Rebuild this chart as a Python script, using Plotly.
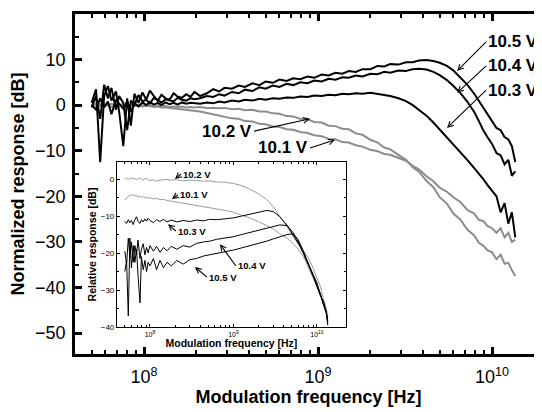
import plotly.graph_objects as go

# ---------------- data ----------------
FREQ_HZ = [
    5.0e7, 5.3e7, 5.6e7, 5.9e7, 6.2e7, 6.5e7, 6.9e7, 7.2e7, 7.6e7, 8.0e7,
    8.4e7, 8.8e7, 9.3e7, 9.8e7, 1.03e8, 1.08e8, 1.14e8, 1.20e8, 1.26e8, 1.33e8,
    1.40e8, 1.48e8, 1.56e8, 1.65e8, 1.75e8, 1.85e8, 1.95e8, 2.1e8, 2.3e8, 2.5e8,
    2.7e8, 2.9e8, 3.2e8, 3.5e8, 3.8e8, 4.2e8, 4.6e8, 5.0e8, 5.5e8, 6.0e8,
    6.6e8, 7.2e8, 7.9e8, 8.7e8, 9.5e8, 1.05e9, 1.15e9, 1.26e9, 1.38e9, 1.5e9,
    1.65e9, 1.8e9, 2.0e9, 2.2e9, 2.4e9, 2.6e9, 2.9e9, 3.2e9, 3.5e9, 3.8e9,
    4.2e9, 4.6e9, 5.0e9, 5.5e9, 6.0e9, 6.6e9, 7.2e9, 7.9e9, 8.4e9, 8.9e9,
    9.4e9, 1.0e10, 1.06e10, 1.12e10, 1.18e10, 1.24e10, 1.3e10, 1.36e10,
]

NORM_10_5 = [
    0.5, 3.5, -12.5, 2.0, 4.2, 1.0, 3.0, -1.5, -9.0, 1.5,
    -4.5, 2.5, 0.5, 2.8, 1.2, 3.2, 2.0, 1.0, 2.3, 1.5,
    1.2, 2.6, 1.9, 1.6, 2.4, 1.8, 2.9, 2.0, 2.6, 3.5,
    3.0, 3.8, 3.6, 4.3, 4.0, 4.8, 4.4, 5.2, 4.9, 5.6,
    5.3, 5.9, 5.7, 6.3, 6.0, 6.7, 6.5, 7.1, 6.9, 7.5,
    7.3, 7.9, 7.9, 8.6, 8.5, 9.0, 8.9, 9.4, 9.4, 9.8,
    9.9, 9.7, 9.3, 8.6, 7.6, 6.0, 4.5, 2.5, 1.0, -0.5,
    -2.0, -3.5, -5.0, -5.5, -7.0, -7.5, -9.0, -12.5,
]

NORM_10_4 = [
    -0.5, 2.0, -3.0, 4.5, 1.5, 3.8, -1.0, 2.0, 0.5, -5.5,
    1.0, 0.0, 2.2, 0.8, 1.2, 0.4, 1.6, 1.1, 0.6, 1.3,
    1.0, 0.8, 1.6, 1.2, 1.0, 1.5, 1.3, 1.5, 2.0, 1.8,
    2.4, 2.1, 2.9, 2.6, 3.4, 3.1, 3.9, 3.6, 4.3, 4.0,
    4.7, 4.4, 5.0, 4.8, 5.4, 5.2, 5.8, 5.6, 6.1, 6.0,
    6.5, 6.3, 6.9, 6.8, 7.3, 7.1, 7.6, 7.5, 7.9, 8.0,
    7.8, 7.3, 6.6, 5.5, 4.2, 2.6, 0.8, -1.5, -3.5, -5.5,
    -7.0, -8.5, -10.5, -11.0, -13.0, -12.0, -15.5, -14.5,
]

NORM_10_3 = [
    0.0, -1.0, 1.5, -0.5, 0.8, -2.0, 1.2, 0.2, -0.8, 0.8,
    -1.5, 0.5, -0.3, 0.6, 0.0, 0.7, 0.1, 0.5, 0.0, 0.6,
    0.2, 0.5, 0.1, 0.6, 0.3, 0.5, 0.4, 0.3, 0.6, 0.4,
    0.8, 0.6, 1.0, 0.8, 1.2, 1.0, 1.4, 1.2, 1.5, 1.4,
    1.7, 1.6, 1.9, 1.8, 2.1, 2.0, 2.3, 2.2, 2.5, 2.4,
    2.6, 2.5, 2.7, 2.5, 2.3, 2.0, 1.5, 0.9, 0.0, -1.0,
    -2.3, -3.8, -5.3, -7.0, -8.5, -10.3, -12.0, -13.8, -15.0, -16.2,
    -17.5, -18.8, -20.0, -23.5, -21.5, -26.0, -23.5, -29.0,
]

NORM_10_2 = [
    0.0, 0.3, -0.2, 0.2, 0.0, 0.3, -0.1, 0.1, 0.2, -0.1,
    0.1, -0.2, 0.0, -0.1, -0.2, 0.0, -0.3, -0.1, -0.3, -0.2,
    -0.4, -0.3, -0.4, -0.3, -0.5, -0.4, -0.5, -0.4, -0.6, -0.6,
    -0.7, -0.6, -0.9, -0.8, -1.1, -1.0, -1.4, -1.4, -1.8, -1.9,
    -2.4, -2.5, -3.0, -3.1, -3.7, -3.8, -4.5, -4.6, -5.2, -5.3,
    -6.2, -6.5, -7.6, -8.2, -9.3, -9.7, -11.0, -12.0, -13.6, -14.6,
    -16.6, -18.0, -20.2, -21.6, -23.8, -25.2, -27.3, -28.6, -30.2, -30.8,
    -31.8, -32.3, -33.8, -32.8, -34.8, -34.6, -36.2, -37.5,
]

NORM_10_1 = [
    0.0, -0.3, 0.2, -0.2, 0.1, -0.4, 0.0, -0.2, 0.1, -0.3,
    0.0, -0.2, -0.1, -0.3, -0.1, -0.2, -0.4, -0.3, -0.5, -0.5,
    -0.6, -0.7, -0.8, -0.9, -1.0, -1.1, -1.2, -1.4, -1.7, -2.0,
    -2.2, -2.4, -2.9, -3.0, -3.5, -3.6, -4.1, -4.2, -4.7, -4.8,
    -5.3, -5.4, -5.9, -6.1, -6.6, -6.8, -7.4, -7.5, -8.1, -8.2,
    -8.8, -9.1, -9.8, -10.1, -10.7, -10.9, -11.6, -12.2, -13.3, -14.1,
    -15.6, -16.7, -18.1, -19.0, -20.2, -21.3, -23.0, -23.8, -25.2, -25.4,
    -26.5, -27.0, -28.0, -27.0, -29.0, -28.0, -30.0, -29.5,
]

INSET_FREQ_HZ = [
    5.0e7, 5.25e7, 5.5e7, 5.75e7, 6.0e7, 6.3e7, 6.6e7, 6.9e7, 7.2e7, 7.6e7,
    7.9e7, 8.3e7, 8.7e7, 9.1e7, 9.5e7, 1.0e8, 1.1e8, 1.2e8, 1.32e8, 1.45e8,
    1.6e8, 1.8e8, 2.1e8, 2.5e8, 3.0e8, 3.6e8, 4.4e8, 5.2e8, 6.3e8, 8.0e8,
    1.0e9, 1.26e9, 1.6e9, 2.0e9, 2.5e9, 3.0e9, 3.6e9, 4.4e9, 5.2e9, 6.0e9,
    6.9e9, 8.0e9, 8.9e9, 1.0e10, 1.1e10, 1.2e10, 1.3e10, 1.35e10,
]

REL_10_2 = [
    0.0, 0.2, -0.1, 0.1, 0.3, 0.0, 0.2, -0.2, 0.1, 0.3,
    0.0, -0.3, 0.1, 0.2, -0.1, -0.5, -0.2, -0.6, -0.3, -0.2,
    -0.1, -0.3, -0.2, -0.5, -0.3, -0.4, -0.6, -0.5, -0.8, -0.9,
    -1.2, -1.8, -2.8, -4.0, -5.5, -7.5, -10.0, -13.0, -15.5, -17.5,
    -19.5, -21.5, -23.8, -26.5, -29.0, -32.5, -35.0, -37.5,
]

REL_10_1 = [
    -5.7, -5.2, -4.6, -4.3, -4.5, -4.2, -4.6, -4.4, -4.9, -4.6,
    -5.0, -4.7, -5.1, -4.8, -5.3, -5.0, -5.4, -5.2, -5.6, -5.5,
    -5.8, -6.0, -6.1, -6.5, -6.7, -7.1, -7.4, -7.6, -8.0, -8.5,
    -9.0, -9.7, -10.6, -11.5, -12.5, -13.5, -14.8, -16.0, -17.5, -19.0,
    -21.0, -24.0, -26.5, -29.0, -31.5, -34.0, -36.0, -38.0,
]

REL_10_3 = [
    -11.5, -12.0, -11.0, -11.8, -11.2, -12.3, -11.0, -10.2, -11.5, -12.0,
    -11.0, -11.6, -10.8, -11.4, -10.6, -11.2, -11.8, -11.0, -11.5, -10.9,
    -11.6, -11.1, -11.6, -11.2, -11.5, -11.1, -11.3, -10.9, -11.0, -10.7,
    -10.5, -10.0, -9.5, -9.0, -8.5, -8.8, -10.2, -12.5, -15.0, -17.5,
    -20.0, -23.0, -25.5, -28.0, -31.5, -34.0, -36.0, -39.0,
]

REL_10_4 = [
    -19.5, -23.0, -16.0, -21.0, -17.0, -22.5, -18.0, -20.5, -16.5, -21.5,
    -19.0, -17.5, -20.5, -18.5, -20.0, -18.0, -19.5, -18.2, -19.8, -18.5,
    -19.4, -18.2, -19.0, -18.0, -18.4, -17.4, -17.0, -16.8, -16.3, -16.0,
    -15.6, -15.0, -14.4, -13.8, -13.2, -12.8, -12.4, -12.6, -14.5, -17.0,
    -20.0, -23.5, -26.0, -29.0, -31.5, -33.0, -36.0, -38.5,
]

REL_10_5 = [
    -25.0, -22.0, -37.0, -16.0, -24.0, -18.0, -22.5, -19.0, -26.0, -33.5,
    -21.0, -24.5, -22.0, -25.0, -22.5, -23.5, -21.5, -24.5, -22.0, -24.0,
    -22.5, -23.5, -22.0, -23.0, -21.8, -21.5, -20.8, -20.5, -20.0, -19.6,
    -19.2, -18.6, -18.0, -17.4, -16.8, -16.2, -15.6, -15.0, -14.8, -16.5,
    -19.5, -23.0, -26.0, -28.5, -31.0, -34.0, -36.5, -39.5,
]

X_TICKS = [1e8, 1e9, 1e10]
X_TICK_TEXT = ["10<sup>8</sup>", "10<sup>9</sup>", "10<sup>10</sup>"]
Y_TICKS = [20, 10, 0, -10, -20, -30, -40, -50]
Y_MINOR = [15, 5, -5, -15, -25, -35, -45]
INSET_Y_TICKS = [0, -10, -20, -30, -40]
INSET_Y_MINOR = [-5, -15, -25, -35]

# ---------------- styling ----------------
FONT = "Liberation Sans, Arial, sans-serif"
BLACK = "#000000"
GRAY_MAIN = "#8c8c8c"
GRAY_INSET = "#9a9a9a"
MINOR_X = [k * 10.0 ** e for e in (7, 8, 9) for k in range(2, 10)]

fig = go.Figure()

main_series = [
    ("10.1 V", NORM_10_1, GRAY_MAIN),
    ("10.2 V", NORM_10_2, GRAY_MAIN),
    ("10.3 V", NORM_10_3, BLACK),
    ("10.4 V", NORM_10_4, BLACK),
    ("10.5 V", NORM_10_5, BLACK),
]
for name, ys, col in main_series:
    fig.add_trace(go.Scatter(x=FREQ_HZ, y=ys, mode="lines", name=name,
                             line=dict(color=col, width=2),
                             xaxis="x", yaxis="y", showlegend=False))

inset_series = [
    ("10.1 V", REL_10_1, GRAY_INSET),
    ("10.2 V", REL_10_2, GRAY_INSET),
    ("10.3 V", REL_10_3, BLACK),
    ("10.4 V", REL_10_4, BLACK),
    ("10.5 V", REL_10_5, BLACK),
]
for name, ys, col in inset_series:
    fig.add_trace(go.Scatter(x=INSET_FREQ_HZ, y=ys, mode="lines", name=name,
                             line=dict(color=col, width=1),
                             xaxis="x2", yaxis="y2", showlegend=False))

axis_common = dict(showgrid=False, zeroline=False, showline=True,
                   linecolor=BLACK, mirror="ticks", ticks="inside",
                   tickcolor=BLACK, automargin=False)

# the page body adds an 8 px offset, so the figure is 534 x 404
fig.update_layout(
    width=534, height=404,
    margin=dict(l=67, r=0, t=6, b=58),
    paper_bgcolor="white", plot_bgcolor="white",
    font=dict(family=FONT, color=BLACK),
    showlegend=False,
    xaxis=dict(**axis_common, type="log", range=[7.6034, 10.287], domain=[0, 1],
               anchor="y", linewidth=2.5, ticklen=7, tickwidth=2.5,
               tickvals=X_TICKS, ticktext=X_TICK_TEXT,
               tickfont=dict(size=18, family=FONT), ticklabelstandoff=5,
               minor=dict(tickvals=MINOR_X, ticks="inside", ticklen=4,
                          tickwidth=2, tickcolor=BLACK, showgrid=False),
               title=dict(text="<b>Modulation frequency [Hz]</b>",
                          font=dict(size=18, family=FONT), standoff=3)),
    yaxis=dict(**axis_common, range=[-54.6, 20], domain=[0, 1], anchor="x",
               linewidth=2.5, ticklen=7, tickwidth=2.5,
               tickvals=Y_TICKS, tickfont=dict(size=18, family=FONT),
               ticklabelstandoff=3,
               minor=dict(tickvals=Y_MINOR, ticks="inside", ticklen=4,
                          tickwidth=2, tickcolor=BLACK, showgrid=False),
               title=dict(text="<b>Normalized response [dB]</b>",
                          font=dict(size=18, family=FONT), standoff=12)),
    xaxis2=dict(**axis_common, type="log", range=[7.605, 10.347],
                domain=[0.0899, 0.580], anchor="y2", linewidth=1.2,
                ticklen=3, tickwidth=1,
                tickvals=X_TICKS, ticktext=X_TICK_TEXT,
                tickfont=dict(size=7, family=FONT),
                minor=dict(tickvals=MINOR_X, ticks="inside", ticklen=2,
                           tickwidth=1, tickcolor=BLACK, showgrid=False),
                title=dict(text="<b>Modulation frequency [Hz]</b>",
                           font=dict(size=10.5, family=FONT), standoff=0)),
    yaxis2=dict(**axis_common, range=[-40, 4.6], domain=[0.0794, 0.5647],
                anchor="x2", linewidth=1.2, ticklen=3, tickwidth=1,
                tickvals=INSET_Y_TICKS, tickfont=dict(size=8, family=FONT),
                minor=dict(tickvals=INSET_Y_MINOR, ticks="inside", ticklen=2,
                           tickwidth=1, tickcolor=BLACK, showgrid=False),
                title=dict(text="<b>Relative response [dB]</b>",
                           font=dict(size=10.5, family=FONT), standoff=2)),
)

# ---------------- labels with arrows ----------------
def label(text, head, tail, xref, yref, size, anchor):
    fig.add_annotation(
        text=f"<b>{text}</b>", x=head[0], y=head[1], ax=tail[0], ay=tail[1],
        xref=xref, yref=yref, axref=xref, ayref=yref,
        xanchor=anchor, yanchor="middle", showarrow=True,
        arrowhead=5, arrowsize=1, arrowwidth=1.1, arrowcolor=BLACK,
        font=dict(size=size, family=FONT, color=BLACK))

# main plot (x in log10 units, y in dB)
label("10.5 V", (9.799, 7.5), (9.966, 13.9), "x", "y", 17, "left")
label("10.4 V", (9.799, 2.7), (9.966, 8.6), "x", "y", 17, "left")
label("10.3 V", (9.741, -5.0), (9.966, 3.3), "x", "y", 17, "left")
label("10.2 V", (8.954, -3.0), (8.632, -5.7), "x", "y", 17, "right")
label("10.1 V", (9.098, -7.6), (8.954, -9.4), "x", "y", 17, "right")

# inset
label("10.2 V", (8.299, 0.0), (8.371, 1.35), "x2", "y2", 9.5, "left")
label("10.1 V", (8.263, -5.4), (8.335, -4.3), "x2", "y2", 9.5, "left")
label("10.3 V", (8.216, -12.2), (8.311, -14.05), "x2", "y2", 9.5, "left")
label("10.4 V", (8.838, -17.6), (9.03, -23.5), "x2", "y2", 9.5, "left")
label("10.5 V", (8.539, -23.8), (8.683, -26.5), "x2", "y2", 9.5, "left")

fig.write_html("out.html")
